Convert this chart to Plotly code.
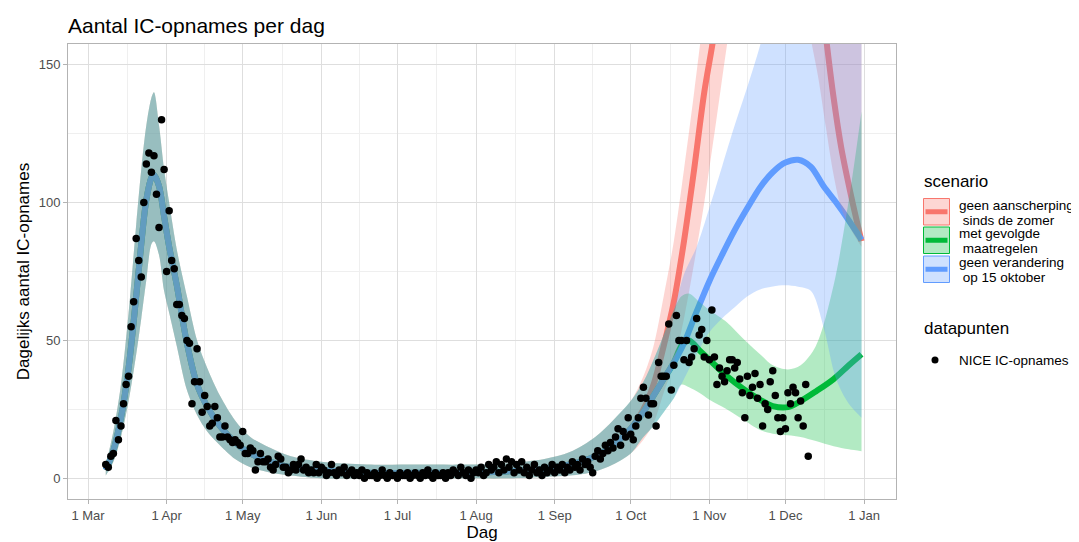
import plotly.graph_objects as go
import pandas as pd

# ---------------- data ----------------
obs_start = "2020-03-08"
obs_values = [
    # Mar 8 - Mar 31
    5, 4, 8, 9, 21, 14, 19, 27, 34, 37, 55, 64, 87, 79, 73, 100, 114, 118, 111, 117, 103, 91, 130, 112,
    # Apr
    75, 97, 79, 76, 63, 63, 59, 58, 50, 49, 27, 35, 47, 35, 24, 30, 26, 19, 20, 26,
    22, 15, 15, 19, 15, 14, 13, 14, 13, 12,
    # May
    17, 9, 9, 11, 10, 3, 6, 9, 6, 6, 7, 4, 3, 5, 8, 7, 4, 4, 2, 3, 5, 3, 5, 7, 3, 4, 2, 3, 2, 5, 2,
    # Jun
    4, 3, 1, 2, 5, 2, 1, 3, 2, 4, 1, 2, 3, 1, 2, 1, 3, 0, 2, 1, 1, 2, 0, 1, 3, 1, 0, 2, 1, 1,
    # Jul
    0, 2, 1, 1, 2, 0, 1, 2, 1, 0, 2, 1, 3, 1, 0, 2, 1, 1, 2, 0, 2, 1, 3, 2, 1, 4, 2, 1, 3, 0, 2,
    # Aug
    3, 2, 4, 1, 2, 5, 3, 4, 6, 2, 5, 3, 7, 4, 6, 2, 5, 3, 6, 2, 4, 1, 3, 5, 2, 3, 1, 4, 2, 3, 5,
    # Sep
    2, 4, 3, 5, 2, 4, 3, 6, 4, 5, 3, 7, 5, 6, 4, 2, 8, 10, 7, 9, 12, 10, 13, 11, 15, 18, 12, 17, 15, 22,
    # Oct
    16, 14, 19, 22, 29, 33, 29, 23, 27, 27, 19, 42, 37, 37, 37, 56, 32, 41, 59, 50,
    50, 43, 50, 42, 44, 47, 58, 52, 54, 44, 50,
    # Nov
    43, 61, 44, 34, 40, 37, 35, 39, 43, 43, 40, 42, 36, 31, 22, 37, 30, 33, 38, 29,
    34, 19, 27, 25, 35, 39, 30, 22, 17, 22,
    # Dec 1 - 10
    18, 31, 27, 33, 31, 22, 28, 19, 34, 8,
]

# shared model fit (all scenarios identical until October)
past_dates = ["2020-03-08", "2020-03-11", "2020-03-14", "2020-03-17", "2020-03-20", "2020-03-22",
              "2020-03-24", "2020-03-26", "2020-03-27", "2020-03-29", "2020-03-31", "2020-04-02",
              "2020-04-05", "2020-04-09", "2020-04-13", "2020-04-17", "2020-04-22", "2020-04-28",
              "2020-05-04", "2020-05-12", "2020-05-20", "2020-06-01", "2020-06-19", "2020-07-09",
              "2020-07-29", "2020-08-13", "2020-08-28", "2020-09-07", "2020-09-17", "2020-09-24",
              "2020-10-01"]
past_mean = [3, 10, 22, 40, 66, 85, 101, 109, 110, 106, 95, 84, 70, 49, 34, 26, 19, 13, 9, 6, 4,
             3, 2, 2, 2, 2.5, 3.5, 5, 8, 12, 18]
past_lower = [1, 6, 15, 28, 45, 58, 72, 85, 86, 81, 68, 60, 48, 32, 23, 17, 12, 7, 4, 2, 1,
              0, 0, 0, 0, 0, 0.5, 1, 2.5, 5, 9]
past_upper = [5, 17, 34, 60, 92, 112, 128, 138, 140, 128, 112, 100, 83, 66, 50, 40, 30, 21, 15, 11, 8,
              6, 5, 5, 5, 5.5, 7, 9.5, 15, 21, 28]

# blue & green scenarios still identical in early October
bg_dates = ["2020-10-06", "2020-10-10", "2020-10-14", "2020-10-18"]
bg_mean = [24, 30, 36, 42]
bg_lower = [15, 19, 24, 29]
bg_upper = [35, 43, 52, 61]

# scenario: geen aanscherping sinds de zomer (red)
red_dates = ["2020-10-06", "2020-10-10", "2020-10-14", "2020-10-18", "2020-10-22", "2020-10-26",
             "2020-10-30", "2020-11-03", "2020-11-11", "2020-11-21", "2020-12-01", "2020-12-09",
             "2020-12-14", "2020-12-17", "2020-12-20", "2020-12-23", "2020-12-27", "2020-12-31"]
red_mean = [25, 34, 48, 64, 86, 112, 140, 162, 220, 280, 300, 240, 185, 160, 138, 120, 102, 86]
red_lower = [14, 20, 31, 42, 58, 78, 100, 125, 175, 220, 240, 170, 145, 127, 110, 98, 90, 84]
red_upper = [37, 48, 66, 86, 112, 140, 170, 200, 280, 360, 400, 380, 330, 300, 280, 260, 230, 200]

# scenario: met gevolgde maatregelen (green)
green_dates = ["2020-10-21", "2020-10-24", "2020-10-28", "2020-11-01", "2020-11-08", "2020-11-14",
               "2020-11-21", "2020-11-26", "2020-12-02", "2020-12-07", "2020-12-13", "2020-12-20",
               "2020-12-26", "2020-12-31"]
green_mean = [48, 50, 46.5, 43, 37, 32.7, 28.5, 26.2, 25.8, 28, 31.5, 36, 41, 45]
green_lower = [34, 33, 31, 28.5, 25, 21.5, 17.5, 16.2, 15.6, 15, 13.5, 11.6, 10.5, 9.8]
green_upper = [66, 67, 64, 61, 56.5, 51, 45, 41, 39.5, 41, 48, 70, 101, 133]

# scenario: geen verandering op 15 oktober (blue)
blue_dates = ["2020-10-22", "2020-10-27", "2020-11-01", "2020-11-06", "2020-11-11", "2020-11-16",
              "2020-11-21", "2020-11-26", "2020-12-01", "2020-12-06", "2020-12-11", "2020-12-16",
              "2020-12-21", "2020-12-26", "2020-12-31"]
blue_mean = [49, 60.5, 71.5, 81, 90, 98, 105.5, 111, 114.5, 115.5, 113, 106, 100, 93.5, 86.5]
blue_lower = [36, 45, 53, 58, 62, 66, 68.5, 69.6, 70, 69.5, 68, 55, 36, 27, 22]
blue_upper = [74, 84, 98, 113, 128, 142, 157, 175, 190, 200, 205, 205, 203, 200, 195]

month_ticks = ["2020-03-01", "2020-04-01", "2020-05-01", "2020-06-01", "2020-07-01", "2020-08-01",
               "2020-09-01", "2020-10-01", "2020-11-01", "2020-12-01", "2021-01-01"]
month_labels = ["1 Mar", "1 Apr", "1 May", "1 Jun", "1 Jul", "1 Aug", "1 Sep", "1 Oct",
                "1 Nov", "1 Dec", "1 Jan"]
y_ticks = [0, 50, 100, 150]
y_minor = [25, 75, 125]

legend_labels = [("geen aanscherping", "sinds de zomer"),
                 ("met gevolgde", "maatregelen"),
                 ("geen verandering", "op 15 oktober")]

# ---------------- build ----------------
RED, GREEN, BLUE = "#F8766D", "#00BA38", "#619CFF"


def rgba(hexc, a):
    h = hexc.lstrip("#")
    return "rgba(%d,%d,%d,%s)" % (int(h[0:2], 16), int(h[2:4], 16), int(h[4:6], 16), a)


obs_dates = pd.date_range(obs_start, periods=len(obs_values), freq="D")

scen = [
    (RED, past_dates + red_dates, past_mean + red_mean, past_lower + red_lower, past_upper + red_upper),
    (GREEN, past_dates + bg_dates + green_dates, past_mean + bg_mean + green_mean,
     past_lower + bg_lower + green_lower, past_upper + bg_upper + green_upper),
    (BLUE, past_dates + bg_dates + blue_dates, past_mean + bg_mean + blue_mean,
     past_lower + bg_lower + blue_lower, past_upper + bg_upper + blue_upper),
]

fig = go.Figure()
# lines first (ribbons are drawn over them, as in the original)
for col, xs, m, lo, hi in scen:
    fig.add_trace(go.Scatter(x=xs, y=m, mode="lines", hoverinfo="skip",
                             line=dict(color=col, width=6, shape="spline", smoothing=0.9)))
for col, xs, m, lo, hi in scen:
    fig.add_trace(go.Scatter(x=xs, y=lo, mode="lines", hoverinfo="skip",
                             line=dict(color="rgba(0,0,0,0)", width=0, shape="spline", smoothing=0.9)))
    fig.add_trace(go.Scatter(x=xs, y=hi, mode="lines", hoverinfo="skip", fill="tonexty",
                             fillcolor=rgba(col, 0.3),
                             line=dict(color="rgba(0,0,0,0)", width=0, shape="spline", smoothing=0.9)))
fig.add_trace(go.Scatter(x=obs_dates, y=obs_values, mode="markers",
                         marker=dict(color="black", size=7.5, line=dict(width=0))))

# minor gridlines midway between months (ggplot style)
mt = pd.to_datetime(month_ticks)
minor_x = [(mt[i] + (mt[i + 1] - mt[i]) / 2).strftime("%Y-%m-%d %H:%M") for i in range(len(mt) - 1)]

FONT = "Liberation Sans, Arial, Helvetica, sans-serif"
# the page body adds an 8 px offset, so the figure is laid out 8 px up/left
OFF = 8
W, H = 1079 - OFF, 542 - OFF
L, R, T, B = 68 - OFF, 896 - OFF, 44 - OFF, 499 - OFF

axis_common = dict(showline=True, mirror=True, linecolor="#B3B3B3", linewidth=1,
                   ticks="outside", ticklen=4, tickcolor="#B3B3B3", tickwidth=1,
                   showgrid=True, gridcolor="#DEDEDE", gridwidth=1, zeroline=False,
                   automargin=False,
                   tickfont=dict(size=13, color="#4D4D4D", family=FONT))

fig.update_layout(
    width=W, height=H,
    margin=dict(l=L, r=W - R, t=T, b=H - B),
    paper_bgcolor="white", plot_bgcolor="white",
    showlegend=False,
    font=dict(family=FONT, color="black"),
    title=dict(text="Aantal IC-opnames per dag", x=0, xref="paper", xanchor="left",
               y=1 - (26 - OFF) / H, yref="container", yanchor="middle",
               font=dict(size=21, color="black", family=FONT)),
    xaxis=dict(type="date", range=["2020-02-22 02:38", "2021-01-13 14:24"],
               tickmode="array", tickvals=month_ticks, ticktext=month_labels,
               minor=dict(tickmode="array", tickvals=minor_x, showgrid=True,
                          gridcolor="#EFEFEF", gridwidth=0.8, ticks=""),
               title=dict(text="Dag", standoff=6, font=dict(size=17, color="black", family=FONT)),
               **axis_common),
    yaxis=dict(range=[-7.5, 157.5], tickmode="array", tickvals=y_ticks,
               minor=dict(tickmode="array", tickvals=y_minor, showgrid=True,
                          gridcolor="#EFEFEF", gridwidth=0.8, ticks=""),
               title=dict(text="Dagelijks aantal IC-opnames", standoff=4,
                          font=dict(size=17, color="black", family=FONT)),
               **axis_common),
)


def pxx(x):
    return (x - OFF - L) / (R - L)


def pxy(y):
    return (B - (y - OFF)) / (B - T)


shapes = []
annots = []
annots.append(dict(text="scenario", x=pxx(922), y=pxy(181), xref="paper", yref="paper",
                   xanchor="left", yanchor="middle", showarrow=False,
                   font=dict(size=17, color="black", family=FONT)))
key_tops = [198.5, 227, 256]
for (col, *_), top, (l1, l2) in zip(scen, key_tops, legend_labels):
    bot = top + 26.5
    mid = (top + bot) / 2
    shapes.append(dict(type="line", xref="paper", yref="paper", x0=pxx(925.5), x1=pxx(947.5),
                       y0=pxy(mid), y1=pxy(mid), line=dict(color=col, width=5)))
    shapes.append(dict(type="rect", xref="paper", yref="paper", x0=pxx(923.5), x1=pxx(949.5),
                       y0=pxy(bot), y1=pxy(top), fillcolor=rgba(col, 0.3),
                       line=dict(color=col, width=1)))
    annots.append(dict(text=l1, x=pxx(957), y=pxy(mid - 6.5), xref="paper", yref="paper",
                       xanchor="left", yanchor="middle", showarrow=False,
                       font=dict(size=13.5, color="black", family=FONT)))
    annots.append(dict(text="\u00a0" + l2, x=pxx(957), y=pxy(mid + 8.5), xref="paper", yref="paper",
                       xanchor="left", yanchor="middle", showarrow=False,
                       font=dict(size=13.5, color="black", family=FONT)))

annots.append(dict(text="datapunten", x=pxx(922), y=pxy(328), xref="paper", yref="paper",
                   xanchor="left", yanchor="middle", showarrow=False,
                   font=dict(size=17, color="black", family=FONT)))
shapes.append(dict(type="circle", xref="paper", yref="paper", x0=pxx(931.5), x1=pxx(938.5),
                   y0=pxy(363.5), y1=pxy(356.5), fillcolor="black", line=dict(width=0)))
annots.append(dict(text="NICE IC-opnames", x=pxx(957), y=pxy(360), xref="paper", yref="paper",
                   xanchor="left", yanchor="middle", showarrow=False,
                   font=dict(size=13.5, color="black", family=FONT)))

fig.update_layout(shapes=shapes, annotations=annots)

fig.write_html("out.html")
